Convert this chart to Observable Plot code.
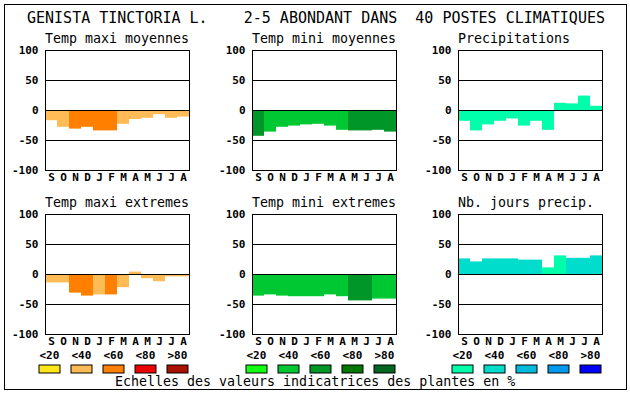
<!DOCTYPE html>
<html><head><meta charset="utf-8">
<script src="https://cdn.jsdelivr.net/npm/d3@7"></script>
<script src="https://cdn.jsdelivr.net/npm/@observablehq/plot@0.6"></script>
<style>
body{margin:0;background:#fff;}
#c{position:relative;width:630px;height:394px;background:#fff;overflow:hidden;}
#c svg{position:absolute;}
</style></head><body><div id="c"></div>
<script>
// ---- data ----
const months = ["S","O","N","D","J","F","M","A","M","J","J","A"];
const classes = ["<20","<40","<60","<80",">80"];
const orangeColors = ["#ffe619","#ffbb55","#ff8000","#ee0000","#aa1100"];
const greenColors  = ["#11ff11","#00c832","#009628","#007700","#006622"];
const blueColors   = ["#00ffaa","#00ddcc","#00bbdd","#0099ee","#0000ff"];

const mainTitle = "GENISTA TINCTORIA L.    2-5 ABONDANT DANS  40 POSTES CLIMATIQUES";
const footer = "Echelles des valeurs indicatrices des plantes en %";

const maxMoyTitle = "Temp maxi moyennes";
const maxMoyValues = [-17,-28,-31,-28,-34,-34,-23,-15,-13,-7,-13,-11];
const maxMoyClass  = [1,1,2,2,2,2,1,1,1,1,1,1];

const minMoyTitle = "Temp mini moyennes";
const minMoyValues = [-43,-36,-28,-26,-24,-23,-26,-33,-34,-34,-33,-36];
const minMoyClass  = [2,1,1,1,1,1,1,1,2,2,2,2];

const precTitle = "Precipitations";
const precValues = [-18,-34,-24,-18,-14,-26,-18,-33,12,11,24,7];
const precClass  = [0,0,0,0,0,0,0,0,0,0,0,0];

const maxExtTitle = "Temp maxi extremes";
const maxExtValues = [-14,-14,-31,-36,-34,-34,-22,4,-7,-12,-4,-4];
const maxExtClass  = [1,1,2,2,1,2,1,1,1,1,1,1];

const minExtTitle = "Temp mini extremes";
const minExtValues = [-36,-34,-36,-37,-37,-37,-34,-37,-44,-44,-41,-41];
const minExtClass  = [1,1,1,1,1,1,1,1,2,2,1,1];

const joursTitle = "Nb. jours precip.";
const joursValues = [26,21,26,26,26,24,24,11,31,27,27,31];
const joursClass  = [1,1,1,1,1,1,1,0,0,1,1,1];

// ---- layout ----
const C = document.getElementById("c");
const colX = [45, 252, 458];
const rowY = [50, 214];
const ML = 42, MR = 2, MT = 6, MB = 16, FW = 144, FH = 120;

const panels = [
  {title: maxMoyTitle, values: maxMoyValues, cls: maxMoyClass, palette: orangeColors, c: 0, r: 0},
  {title: minMoyTitle, values: minMoyValues, cls: minMoyClass, palette: greenColors, c: 1, r: 0},
  {title: precTitle, values: precValues, cls: precClass, palette: blueColors, c: 2, r: 0},
  {title: maxExtTitle, values: maxExtValues, cls: maxExtClass, palette: orangeColors, c: 0, r: 1},
  {title: minExtTitle, values: minExtValues, cls: minExtClass, palette: greenColors, c: 1, r: 1},
  {title: joursTitle, values: joursValues, cls: joursClass, palette: blueColors, c: 2, r: 1}
];

const axisStyle = {fontFamily: "'DejaVu Sans Mono', monospace", fontSize: "11px", fontWeight: "bold", background: "transparent", color: "black", overflow: "visible"};

for (const p of panels) {
  const data = p.values.map((v, i) => ({i, v, k: classes[p.cls[i]]}));
  const svg = Plot.plot({
    width: ML + FW + MR, height: MT + FH + MB,
    marginLeft: ML, marginRight: MR, marginTop: MT, marginBottom: MB,
    style: axisStyle,
    x: {type: "band", domain: d3.range(12), padding: 0, tickFormat: i => months[i], tickSize: 0, tickPadding: 3, label: null},
    y: {domain: [-100, 100], ticks: 4, tickSize: 0, tickPadding: 7, label: null, tickFormat: d => String(d)},
    color: {domain: classes, range: p.palette},
    marks: [
      Plot.barY(data, {x: "i", y1: 0, y2: "v", fill: "k"}),
      Plot.ruleY([50, 0, -50], {stroke: "black"}),
      Plot.frame({stroke: "black"})
    ]
  });
  svg.style.left = (colX[p.c] - ML) + "px";
  svg.style.top = (rowY[p.r] - MT) + "px";
  C.appendChild(svg);
}

// legends
const legends = [orangeColors, greenColors, blueColors];
legends.forEach((pal, j) => {
  const svg = Plot.plot({
    width: 170, height: 30, margin: 0,
    style: axisStyle,
    x: {type: "band", domain: classes, range: [0, 160], padding: 0, axis: null},
    y: {type: "band", domain: ["s"], range: [17, 27], axis: null},
    color: {domain: classes, range: pal},
    marks: [
      Plot.cell(classes, {x: d => d, y: () => "s", fill: d => d, stroke: "black", insetRight: 11}),
      Plot.text(classes, {x: d => d, y: () => "s", text: d => d, textAnchor: "start", dx: -16, dy: -14, fill: "black"})
    ]
  });
  svg.style.left = (colX[j] - 6) + "px";
  svg.style.top = "347px";
  C.appendChild(svg);
});

// overlay texts and border
const ov = d3.select(C).append("svg").attr("width", 630).attr("height", 394).style("left", "0px").style("top", "0px");
ov.append("rect").attr("x", 4.5).attr("y", 4.5).attr("width", 622).attr("height", 385)
  .attr("fill", "none").attr("stroke", "black");
ov.append("text").attr("x", 27).attr("y", 23).attr("font-family", "'DejaVu Sans Mono', monospace")
  .attr("font-size", 15).attr("xml:space", "preserve").style("white-space", "pre").text(mainTitle);
for (const p of panels) {
  ov.append("text").attr("x", colX[p.c]).attr("y", rowY[p.r] - 7)
    .attr("font-family", "'DejaVu Sans Mono', monospace").attr("font-size", 13.3).text(p.title);
}
ov.append("text").attr("x", 115).attr("y", 386).attr("font-family", "'DejaVu Sans Mono', monospace")
  .attr("font-size", 13.3).text(footer);
</script></body></html>
